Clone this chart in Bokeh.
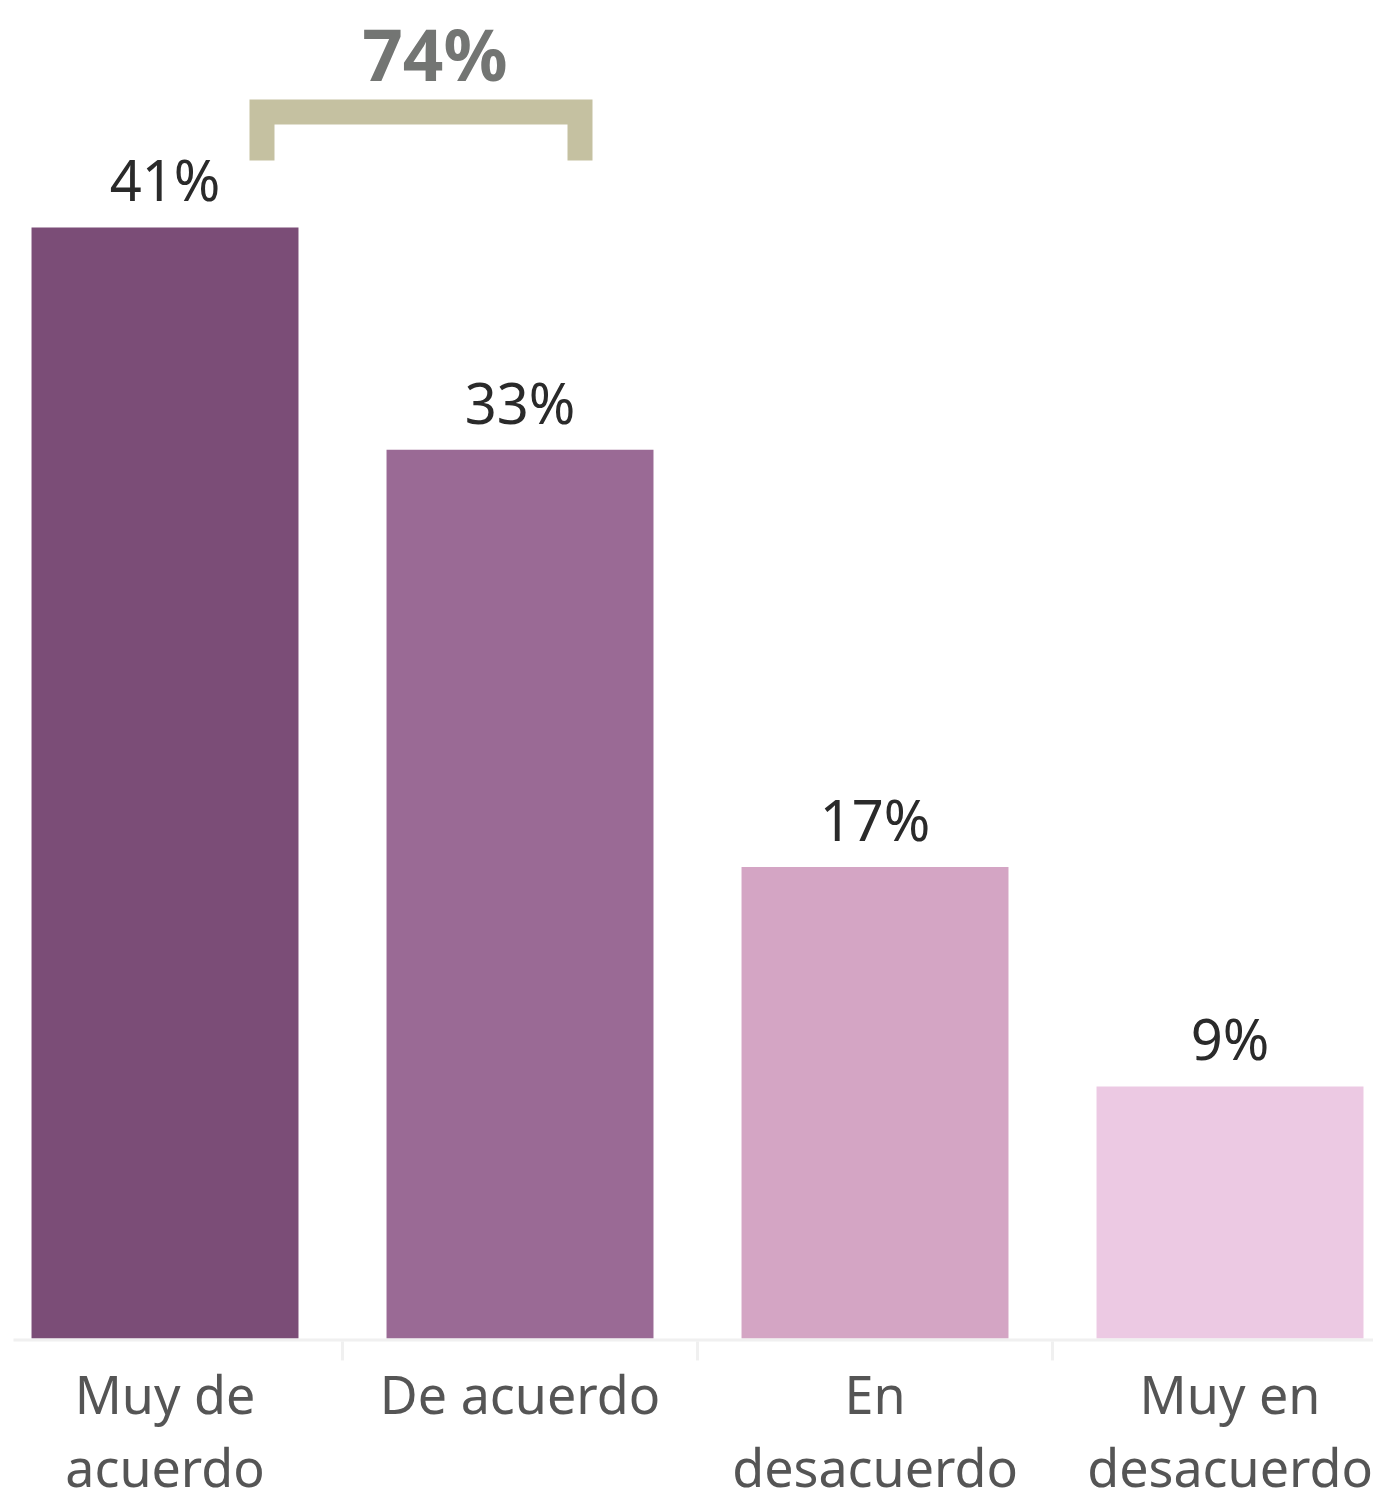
from bokeh.plotting import figure
from bokeh.models import Range1d
from bokeh.core.properties import value
from bokeh.embed import file_html
from bokeh.resources import INLINE

categories = ["Muy de\nacuerdo", "De acuerdo", "En\ndesacuerdo", "Muy en\ndesacuerdo"]
values = [41.0, 32.8, 17.4, 9.3]
labels = [f"{round(v)}%" for v in values]
colors = ["#7b4d77", "#9a6a95", "#d4a5c4", "#ecc9e3"]
combined_label = f"{round(values[0] + values[1])}%"

FONT = "Noto Sans"
xs = list(range(len(categories)))

p = figure(width=1373, height=1497, output_backend="svg", toolbar_location=None,
           x_range=Range1d(-0.4634, 3.4042), y_range=Range1d(-5.867, 49.373),
           min_border=0, outline_line_color=None, background_fill_color="white",
           border_fill_color="white")
p.axis.visible = False
p.grid.visible = False

# bars
p.vbar(x=xs, top=values, bottom=0, width=0.752, fill_color=colors, line_color=None)

# axis baseline and category separators
p.segment(x0=[-0.4268], y0=[-0.055], x1=[3.41], y1=[-0.055], line_color="#f0f0f0", line_width=3)
sep = [i + 0.5 for i in xs[:-1]]
p.segment(x0=sep, y0=[-0.11] * len(sep), x1=sep, y1=[-0.81] * len(sep),
          line_color="#f0f0f0", line_width=3)

# value labels
p.text(x=xs, y=values, text=labels, text_align="center", text_baseline="alphabetic",
       y_offset=-48, text_font=value(FONT), text_font_size="56px", text_color="#2a2a2a")

# category labels
p.text(x=xs, y=[0] * len(xs), text=categories, text_align="center", text_baseline="top",
       y_offset=19, text_font=value(FONT), text_font_size="52px", text_color="#555555",
       text_line_height=1.03)

# bracket for combined agreement
bx = [0.2732, 0.2732, 1.1690, 1.1690]
by = [43.469, 45.259, 45.259, 43.469]
p.line(x=bx, y=by, line_color="#c5c1a1", line_width=25, line_join="miter", line_cap="butt")
p.text(x=[(0.2732 + 1.1690) / 2 + 0.039], y=[45.72], text=[combined_label], text_align="center",
       text_baseline="alphabetic", y_offset=-46, text_font=value(FONT),
       text_font_size="71px", text_font_style="bold", text_color="#737573")

open("out.html", "w").write(file_html(p, INLINE))
